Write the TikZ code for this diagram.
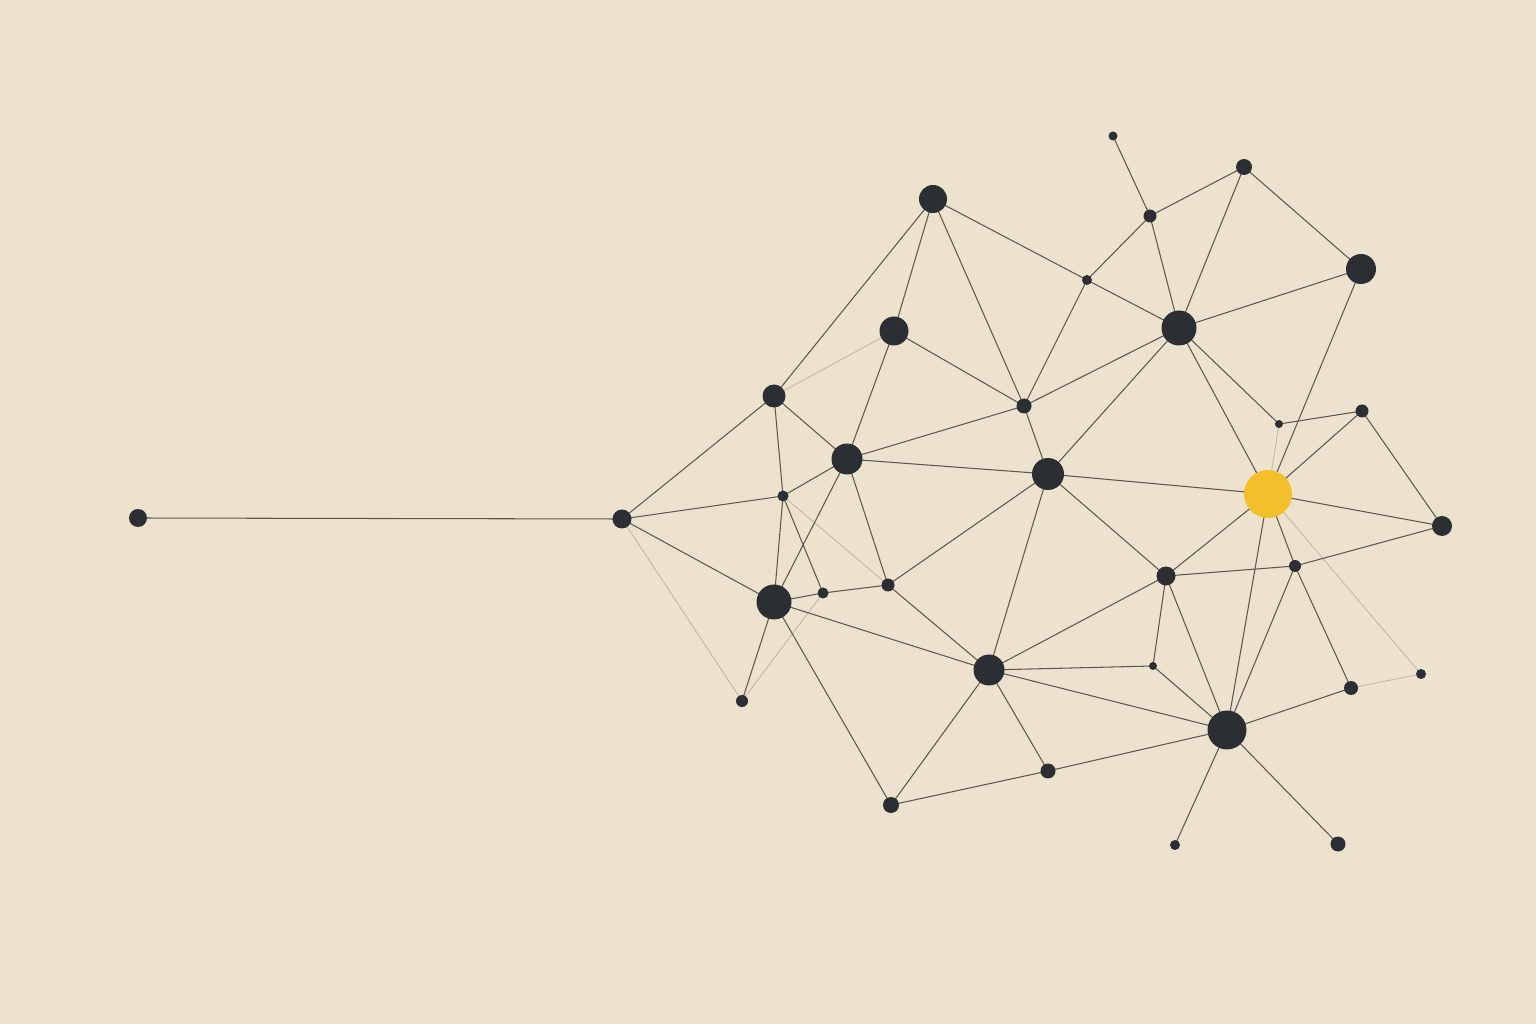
\documentclass[tikz,border=0pt]{standalone}
\usepackage{tikz}

\definecolor{paper}{RGB}{237,226,206}
\definecolor{ink}{RGB}{43,46,51}
\definecolor{sun}{RGB}{243,192,44}
\definecolor{wire}{RGB}{92,88,82}

\pgfdeclarelayer{paperlayer}
\pgfdeclarelayer{wires}
\pgfsetlayers{paperlayer,wires,main}

\tikzset{
  dot/.style={circle, fill=ink, draw=none, inner sep=0pt, minimum size=#1*0.1mm},
  sundot/.style={circle, fill=sun, draw=none, inner sep=0pt, minimum size=#1*0.1mm},
  link/.style={draw=wire, line width=0.3pt},
  faint/.style={draw=wire, line width=0.25pt, opacity=0.3}
}

\begin{document}
\begin{tikzpicture}[x=0.1mm, y=-0.1mm]
        % Canvas
        \begin{pgfonlayer}{paperlayer}
        \fill[paper] (0,0) rectangle (1536,1024);
        \end{pgfonlayer}
        \useasboundingbox (0,0) rectangle (1536,1024);

        % Left tail
        \node[dot=18] (L) at (138,518) {};
        \node[dot=19] (A) at (622,519) {};

        % Left cluster
        \node[dot=28] (B) at (933,199) {};
        \node[dot=29] (C) at (894,331) {};
        \node[dot=23] (D) at (774,396) {};
        \node[dot=31] (E) at (847,459) {};
        \node[dot=11] (F) at (783,496) {};
        \node[dot=35] (G) at (774,602) {};
        \node[dot=11] (H) at (823,593) {};
        \node[dot=13] (I) at (888,585) {};
        \node[dot=12] (J) at (742,701) {};
        \node[dot=31] (K) at (989,670) {};
        \node[dot=16] (M) at (891,805) {};
        \node[dot=15] (N) at (1048,771) {};
        \node[dot=15] (O) at (1024,406) {};
        \node[dot=32] (P) at (1048,474) {};

        % Upper right
        \node[dot=10] (Q) at (1087,280) {};
        \node[dot=9]  (R) at (1113,136) {};
        \node[dot=13] (S) at (1150,216) {};
        \node[dot=16] (T) at (1244,167) {};
        \node[dot=35] (U) at (1179,328) {};
        \node[dot=30] (V) at (1361,269) {};
        \node[dot=8]  (W) at (1279,424) {};
        \node[dot=13] (X) at (1362,411) {};
        \node[sundot=48] (Y) at (1268,494) {};
        \node[dot=20] (Z) at (1442,526) {};

        % Lower right
        \node[dot=19] (a) at (1166,576) {};
        \node[dot=12] (b) at (1295,566) {};
        \node[dot=8]  (c) at (1153,666) {};
        \node[dot=39] (d) at (1227,730) {};
        \node[dot=14] (e) at (1351,688) {};
        \node[dot=10] (f) at (1421,674) {};
        \node[dot=10] (g) at (1175,845) {};
        \node[dot=15] (h) at (1338,844) {};

        % Connections
        \begin{pgfonlayer}{wires}
        \foreach \u/\v in {L/A, A/D, A/F, A/G, B/C, B/D, B/O, B/Q, C/O, C/E,
            D/E, D/F, E/F, E/O, E/P, E/G, E/I, F/G, F/H, G/H, G/J, G/K, G/M,
            H/I, I/K, I/P, K/M, K/N, K/a, K/c, K/d, K/P, M/N, N/d,
            O/P, O/Q, O/U, P/U, P/Y, P/a, Q/S, Q/U, R/S, S/T, S/U,
            T/U, T/V, U/V, U/Y, U/W, V/Y, W/X, X/Y, X/Z,
            Y/Z, Y/a, Y/d, Y/b, a/b, a/c, a/d, b/d, b/e, b/Z, c/d,
            d/e, d/g, d/h}
          \draw[link] (\u.center) -- (\v.center);
        \foreach \u/\v in {A/J, H/J, F/I, C/D, W/Y, Y/f, e/f}
          \draw[faint] (\u.center) -- (\v.center);
        \end{pgfonlayer}
    \end{tikzpicture}
\end{document}
